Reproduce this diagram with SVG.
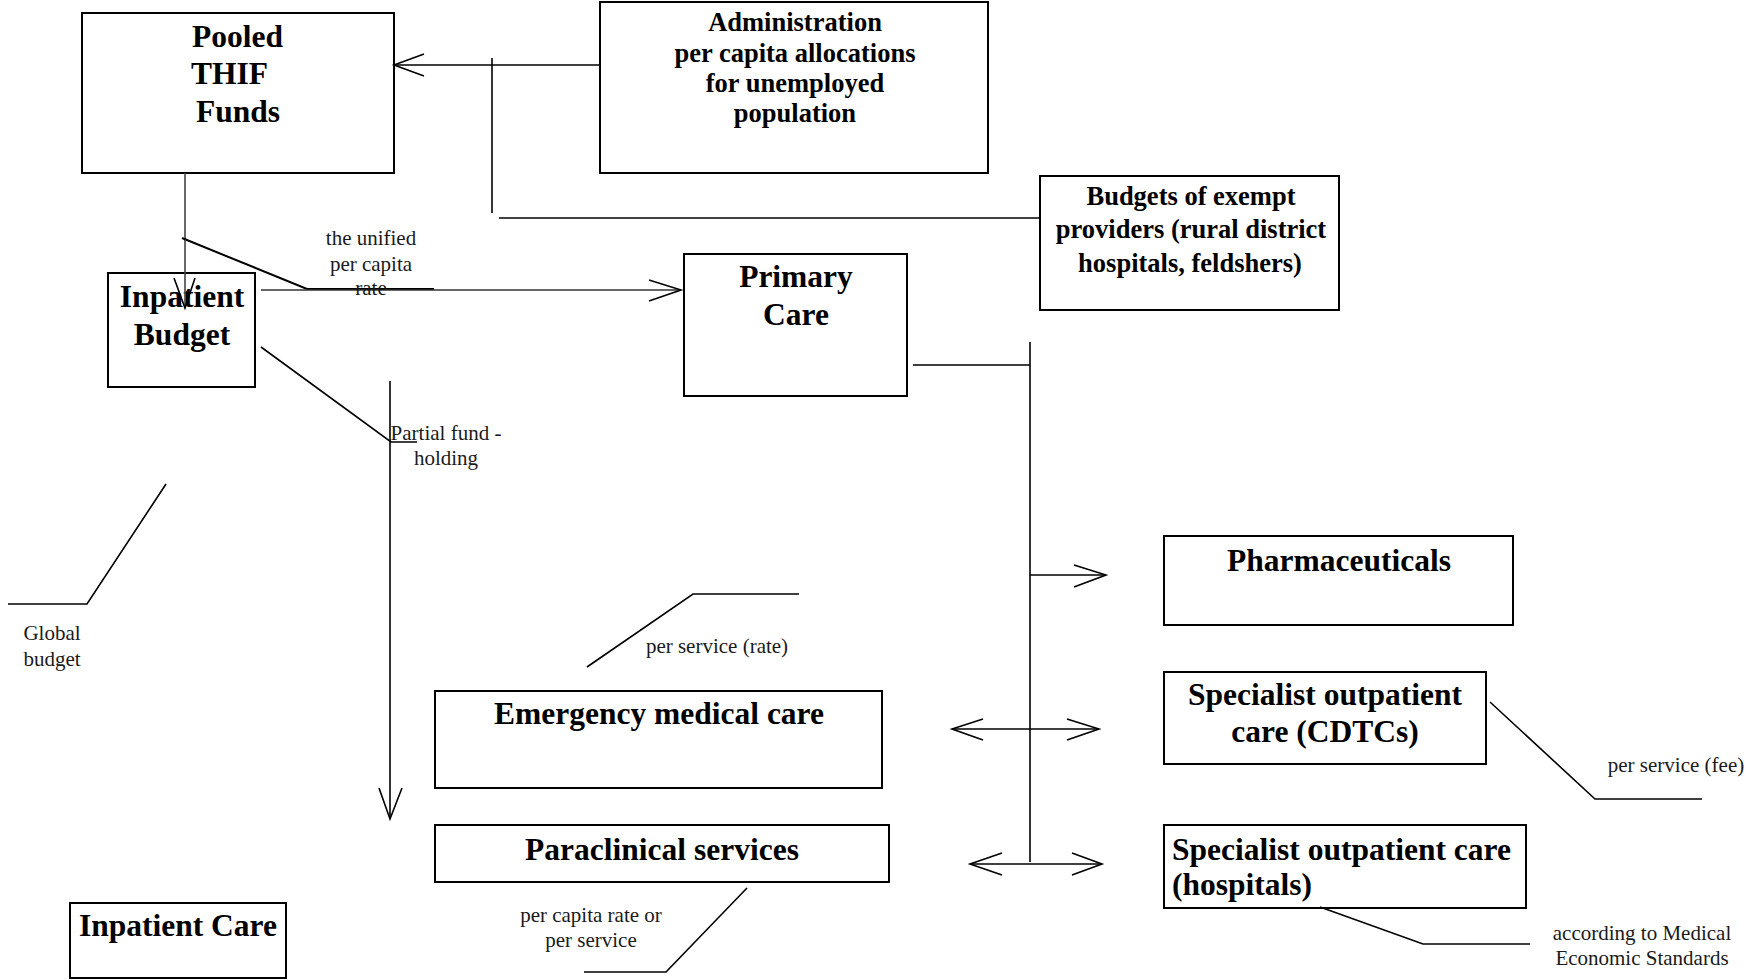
<svg xmlns="http://www.w3.org/2000/svg" width="1748" height="980" viewBox="0 0 1748 980">
<style>
rect.box{fill:none;stroke:#000;stroke-width:2}
.big{font-family:"Liberation Serif","Times New Roman",serif;font-weight:bold;font-size:31.5px;fill:#000}
.mid{font-family:"Liberation Serif","Times New Roman",serif;font-weight:bold;font-size:26.5px;fill:#000}
.small{font-family:"Liberation Serif","Times New Roman",serif;font-size:21px;fill:#1a1a1a}
.c{text-anchor:middle}
#connectors line,#connectors polyline{stroke:#000;stroke-width:1.6;fill:none}
</style>
<rect width="1748" height="980" fill="#fff"/>
<g id="pooled">
  <rect class="box" x="82" y="13" width="312" height="160"/>
  <text class="big" x="192" y="47">Pooled</text>
  <text class="big" x="191" y="84">THIF</text>
  <text class="big" x="196" y="122">Funds</text>
</g>
<g id="administration">
  <rect class="box" x="600" y="2" width="388" height="171"/>
  <text class="mid c" x="795" y="31">Administration</text>
  <text class="mid c" x="795" y="62">per capita allocations</text>
  <text class="mid c" x="795" y="92">for unemployed</text>
  <text class="mid c" x="795" y="122">population</text>
</g>
<g id="budgets">
  <rect class="box" x="1040" y="176" width="299" height="134"/>
  <text class="mid c" x="1191" y="205">Budgets of exempt</text>
  <text class="mid c" x="1191" y="238">providers (rural district</text>
  <text class="mid c" x="1190" y="272">hospitals, feldshers)</text>
</g>
<g id="inpatient-budget">
  <rect class="box" x="108" y="273" width="147" height="114"/>
  <text class="big c" x="182" y="307">Inpatient</text>
  <text class="big c" x="182" y="345">Budget</text>
</g>
<g id="primary-care">
  <rect class="box" x="684" y="254" width="223" height="142"/>
  <text class="big c" x="796" y="287">Primary</text>
  <text class="big c" x="796" y="325">Care</text>
</g>
<g id="pharmaceuticals">
  <rect class="box" x="1164" y="536" width="349" height="89"/>
  <text class="big c" x="1339" y="571">Pharmaceuticals</text>
</g>
<g id="emergency">
  <rect class="box" x="435" y="691" width="447" height="97"/>
  <text class="big c" x="659" y="724">Emergency medical care</text>
</g>
<g id="cdtcs">
  <rect class="box" x="1164" y="672" width="322" height="92"/>
  <text class="big c" x="1325" y="705">Specialist outpatient</text>
  <text class="big c" x="1325" y="742">care (CDTCs)</text>
</g>
<g id="paraclinical">
  <rect class="box" x="435" y="825" width="454" height="57"/>
  <text class="big c" x="662" y="860">Paraclinical services</text>
</g>
<g id="hospitals">
  <rect class="box" x="1164" y="825" width="362" height="83"/>
  <text class="big" x="1172" y="860">Specialist outpatient care</text>
  <text class="big" x="1172" y="895">(hospitals)</text>
</g>
<g id="inpatient-care">
  <rect class="box" x="70" y="903" width="216" height="75"/>
  <text class="big c" x="178" y="936">Inpatient Care</text>
</g>
<g id="connectors">
  <!-- Administration -> Pooled -->
  <line x1="394" y1="65" x2="600" y2="65"/>
  <polyline points="424,54 394,65 424,76"/>
  <!-- Budgets bracket -->
  <line x1="492" y1="58" x2="492" y2="213"/>
  <line x1="499" y1="218" x2="1040" y2="218"/>
  <!-- Pooled -> Inpatient Budget -->
  <line x1="185" y1="173" x2="185" y2="308" style="stroke:#444"/>
  <polyline points="174,278 185,308 195,278"/>
  <!-- unified rate leader -->
  <polyline points="182,238 307,289 434,289" style="stroke-width:2"/>
  <!-- Inpatient Budget -> Primary Care -->
  <line x1="261" y1="290" x2="681" y2="290" style="stroke:#333"/>
  <polyline points="649,280 681,290 649,301"/>
  <!-- Partial fund-holding leader -->
  <polyline points="261,347 391,442 417,442"/>
  <!-- long vertical arrow -->
  <line x1="390" y1="381" x2="390" y2="819"/>
  <polyline points="379,788 390,819 402,788"/>
  <!-- Global budget leader -->
  <polyline points="166,484 87,604 8,604"/>
  <!-- per service (rate) leader -->
  <polyline points="587,667 693,594 799,594"/>
  <!-- Primary care branch -->
  <line x1="913" y1="365" x2="1030" y2="365"/>
  <line x1="1030" y1="342" x2="1030" y2="862"/>
  <!-- to Pharmaceuticals -->
  <line x1="1030" y1="575" x2="1106" y2="575"/>
  <polyline points="1074,565 1106,575 1074,587"/>
  <!-- double arrow CDTCs -->
  <line x1="952" y1="729" x2="1099" y2="729"/>
  <polyline points="983,719 952,729 983,740"/>
  <polyline points="1067,719 1099,729 1067,740"/>
  <!-- double arrow hospitals -->
  <line x1="970" y1="864" x2="1102" y2="864"/>
  <polyline points="1002,853 970,864 1002,875"/>
  <polyline points="1072,853 1102,864 1072,875"/>
  <!-- CDTCs leader -->
  <polyline points="1490,702 1595,799 1702,799"/>
  <!-- hospitals leader -->
  <polyline points="1320,907 1423,944 1530,944"/>
  <!-- paraclinical leader -->
  <polyline points="747,888 666,972 584,972"/>
</g>
<g id="labels">
  <text class="small c" x="371" y="245">the unified</text>
  <text class="small c" x="371" y="271">per capita</text>
  <text class="small c" x="371" y="295">rate</text>
  <text class="small c" x="446" y="440">Partial fund -</text>
  <text class="small c" x="446" y="465">holding</text>
  <text class="small c" x="52" y="640">Global</text>
  <text class="small c" x="52" y="666">budget</text>
  <text class="small c" x="717" y="653">per service (rate)</text>
  <text class="small c" x="1676" y="772">per service (fee)</text>
  <text class="small c" x="1642" y="940">according to Medical</text>
  <text class="small c" x="1642" y="965">Economic Standards</text>
  <text class="small c" x="591" y="922">per capita rate or</text>
  <text class="small c" x="591" y="947">per service</text>
</g>
</svg>
